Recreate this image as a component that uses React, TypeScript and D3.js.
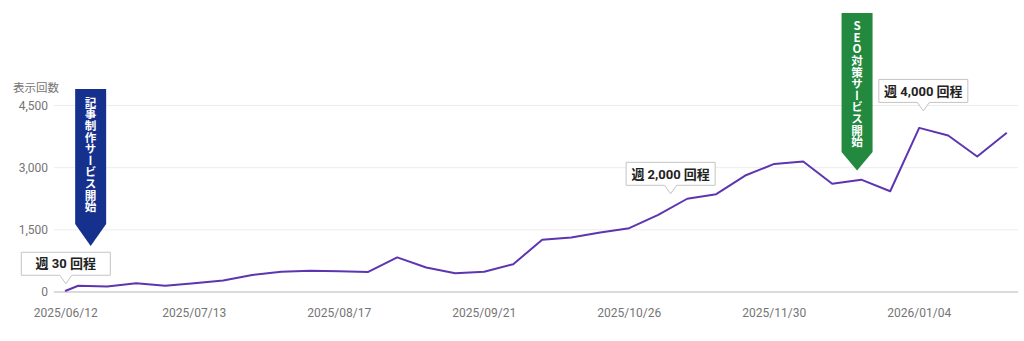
import React from "react";
import * as d3 from "d3";

const dates: string[] = [
  "2025/06/12", "2025/06/15", "2025/06/22", "2025/06/29", "2025/07/06", "2025/07/13",
  "2025/07/20", "2025/07/27", "2025/08/03", "2025/08/10", "2025/08/17", "2025/08/24",
  "2025/08/31", "2025/09/07", "2025/09/14", "2025/09/21", "2025/09/28", "2025/10/05",
  "2025/10/12", "2025/10/19", "2025/10/26", "2025/11/02", "2025/11/09", "2025/11/16",
  "2025/11/23", "2025/11/30", "2025/12/07", "2025/12/14", "2025/12/21", "2025/12/28",
  "2026/01/04", "2026/01/11", "2026/01/18", "2026/01/25",
];
const impressions: number[] = [
  30, 150, 130, 210, 150, 210,
  275, 410, 490, 515, 500, 485,
  835, 590, 450, 490, 670, 1260,
  1315, 1435, 1540, 1860, 2250, 2360,
  2810, 3090, 3150, 2610, 2710, 2430,
  3960, 3775, 3270, 3830,
];
const xTickLabels: string[] = [
  "2025/06/12", "2025/07/13", "2025/08/17", "2025/09/21", "2025/10/26", "2025/11/30", "2026/01/04",
];
const yTicks: number[] = [0, 1500, 3000, 4500];
const yAxisTitle = "表示回数";

const callouts = [
  { date: "2025/06/12", value: 30, label: "週 30 回程" },
  { date: "2025/11/05", value: 2200, label: "週 2,000 回程" },
  { date: "2026/01/05", value: 4200, label: "週 4,000 回程" },
];
const flags = [
  { date: "2025/06/18", label: "記事制作サービス開始", color: "#15308d" },
  { date: "2025/12/20", label: "SEO対策サービス開始", color: "#22893f" },
];

const parse = d3.timeParse("%Y/%m/%d");
const fmt = d3.format(",");

export default function App() {
  const W = 1024, H = 341;
  const x = d3.scaleTime()
    .domain([parse("2025/06/12")!, parse("2026/01/04")!])
    .range([65.8, 919.2]);
  const y = d3.scaleLinear().domain([0, 4500]).range([292, 105.5]);
  const left = 54, right = 1018;

  const pts = dates.map((d, i) => [x(parse(d)!), y(impressions[i])] as [number, number]);
  const line = d3.line().curve(d3.curveLinear)(pts) || "";

  const font = "Roboto, 'Noto Sans CJK JP', sans-serif";
  const gray = "#757575";

  const flagTops = [89, 13];
  const flagBottoms = [224, 152];
  const flagTips = [246, 170.5];
  const flagTextTop = [96.5, 20];

  return (
    <svg width={W} height={H} style={{ position: "absolute", left: 0, top: 0, display: "block", background: "#fff" }}>
      {yTicks.map((t) => (
        <g key={t}>
          {t > 0 && <line x1={left} x2={right} y1={y(t)} y2={y(t)} stroke="#ececec" strokeWidth={1} />}
          <text x={48} y={y(t)} dy="0.35em" textAnchor="end" fontFamily={font} fontSize={12} fill={gray}>
            {fmt(t)}
          </text>
        </g>
      ))}
      <text x={13} y={92} fontFamily={font} fontSize={11.5} fill={gray}>{yAxisTitle}</text>
      <line x1={left} x2={right} y1={y(0)} y2={y(0)} stroke="#b5b5b5" strokeWidth={1} />
      {xTickLabels.map((t) => (
        <text key={t} x={x(parse(t)!)} y={317} textAnchor="middle" fontFamily={font} fontSize={12} fill={gray}>
          {t}
        </text>
      ))}
      <path d={line} fill="none" stroke="#5e35b1" strokeWidth={2} strokeLinejoin="round" strokeLinecap="round" />

      {flags.map((f, i) => {
        const cx = x(parse(f.date)!);
        const hw = 15.5;
        const top = flagTops[i], bot = flagBottoms[i], tip = flagTips[i];
        const d = `M${cx - hw},${top}H${cx + hw}V${bot}L${cx},${tip}L${cx - hw},${bot}Z`;
        return (
          <g key={f.label}>
            <path d={d} fill={f.color} />
            <text
              x={cx}
              y={flagTextTop[i]}
              fill="#fff"
              fontFamily="'Noto Sans CJK JP', sans-serif"
              fontWeight={700}
              fontSize={11.6}
              dominantBaseline="central"
              style={{ writingMode: "vertical-rl", textOrientation: "upright" } as any}
            >
              {f.label}
            </text>
          </g>
        );
      })}

      {callouts.map((c) => {
        const tx = x(parse(c.date)!);
        const ty = y(c.value) - 7;
        const bw = 89, bh = 23, ph = 8.5, pw = 6;
        const bl = tx - bw / 2, br = tx + bw / 2, bb = ty - ph, bt = bb - bh;
        const d = `M${bl},${bt}H${br}V${bb}H${tx + pw}L${tx},${ty}L${tx - pw},${bb}H${bl}Z`;
        return (
          <g key={c.label}>
            <path d={d} fill="#fff" stroke="#c4c4c4" strokeWidth={1} />
            <text x={tx} y={bt + bh / 2} dy="0.36em" textAnchor="middle" fontFamily={font} fontWeight={700} fontSize={13} fill="#222">
              {c.label}
            </text>
          </g>
        );
      })}
    </svg>
  );
}
